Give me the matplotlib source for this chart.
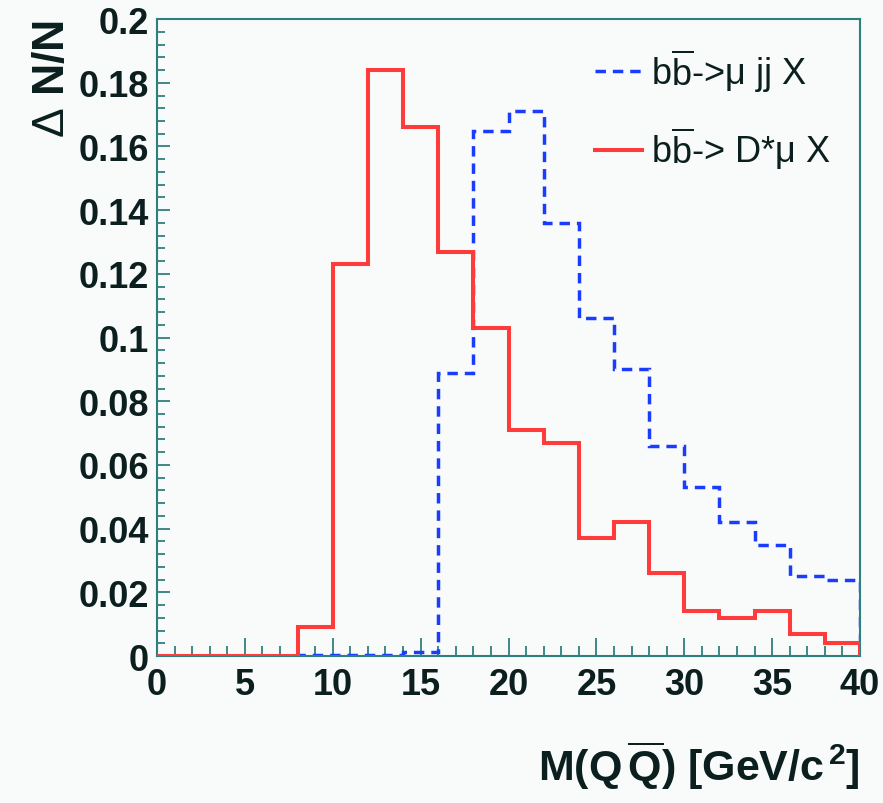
import matplotlib
matplotlib.use("Agg")
import matplotlib.pyplot as plt
import numpy as np
from matplotlib.ticker import MultipleLocator

# Bin edges for M(QQbar) in GeV/c^2, 2 GeV bins
edges = np.arange(0, 42, 2)

# Normalised yields per bin
mu_jj = [0, 0, 0, 0, 0.0002, 0.0002, 0.0003, 0.0012, 0.089, 0.165,
         0.171, 0.136, 0.106, 0.090, 0.066, 0.053, 0.042, 0.035, 0.025, 0.024]
dstar_mu = [0, 0, 0, 0, 0.009, 0.123, 0.184, 0.166, 0.127, 0.103,
            0.071, 0.067, 0.037, 0.042, 0.026, 0.014, 0.012, 0.014, 0.007, 0.004]

labels = [r"b$\overline{\mathrm{b}}$->$\mathrm{\mu}$ jj X",
          r"b$\overline{\mathrm{b}}$-> D*$\mathrm{\mu}$ X"]

plt.rcParams["font.family"] = ["Liberation Sans", "DejaVu Sans"]
plt.rcParams["mathtext.fontset"] = "custom"
plt.rcParams["mathtext.rm"] = "Liberation Sans"
plt.rcParams["mathtext.it"] = "Liberation Sans:italic"
plt.rcParams["mathtext.bf"] = "Liberation Sans:bold"

BG = "#f8fbf9"
FRAME = "#2f7f7c"
TEXT = "#0c1f1f"

fig = plt.figure(figsize=(8.83, 8.04), dpi=100, facecolor=BG)
ax = fig.add_axes([0.1778, 0.1828, 0.7962, 0.7922], facecolor=BG)

ax.stairs(mu_jj, edges, color="#1a3cff", linewidth=2.5,
          linestyle=(0, (3, 2)), label=labels[0], zorder=2)
ax.stairs(dstar_mu, edges, color="#ff3b3b", linewidth=2.9,
          label=labels[1], zorder=3)

ax.set_xlim(0, 40)
ax.set_ylim(0, 0.2)

ax.xaxis.set_major_locator(MultipleLocator(5))
ax.xaxis.set_minor_locator(MultipleLocator(1))
ax.yaxis.set_major_locator(MultipleLocator(0.02))
ax.yaxis.set_minor_locator(MultipleLocator(0.004))
ax.yaxis.set_major_formatter(plt.FuncFormatter(lambda v, _: f"{v:g}"))

ax.tick_params(which="both", direction="in", color=FRAME, width=1.3,
               top=False, right=False, labelcolor=TEXT)
ax.tick_params(axis="x", which="major", length=13, pad=8)
ax.tick_params(axis="x", which="minor", length=7)
ax.tick_params(axis="y", which="major", length=9.5, pad=6)
ax.tick_params(axis="y", which="minor", length=6)
for lab in ax.get_xticklabels() + ax.get_yticklabels():
    lab.set_fontsize(26)
    lab.set_fontweight("bold")

for sp in ax.spines.values():
    sp.set_color(FRAME)
    sp.set_linewidth(1.5)

ax.set_xlabel(r"$\mathbf{M(Q\,\overline{Q})\ [GeV/c^{\,2}]}$", fontsize=31,
              color=TEXT, loc="right", labelpad=26)
ax.set_ylabel(r"$\mathrm{\Delta}$ N/N", fontsize=32, fontweight="bold",
              color=TEXT, loc="top", labelpad=4)

leg = ax.legend(loc="upper left", bbox_to_anchor=(0.623, 0.958), frameon=False,
                fontsize=26, handlelength=1.3, handletextpad=0.25,
                labelspacing=0.85, borderpad=0, borderaxespad=0)
for t in leg.get_texts():
    t.set_color(TEXT)

fig.savefig("out.png", dpi=100, facecolor=BG)
